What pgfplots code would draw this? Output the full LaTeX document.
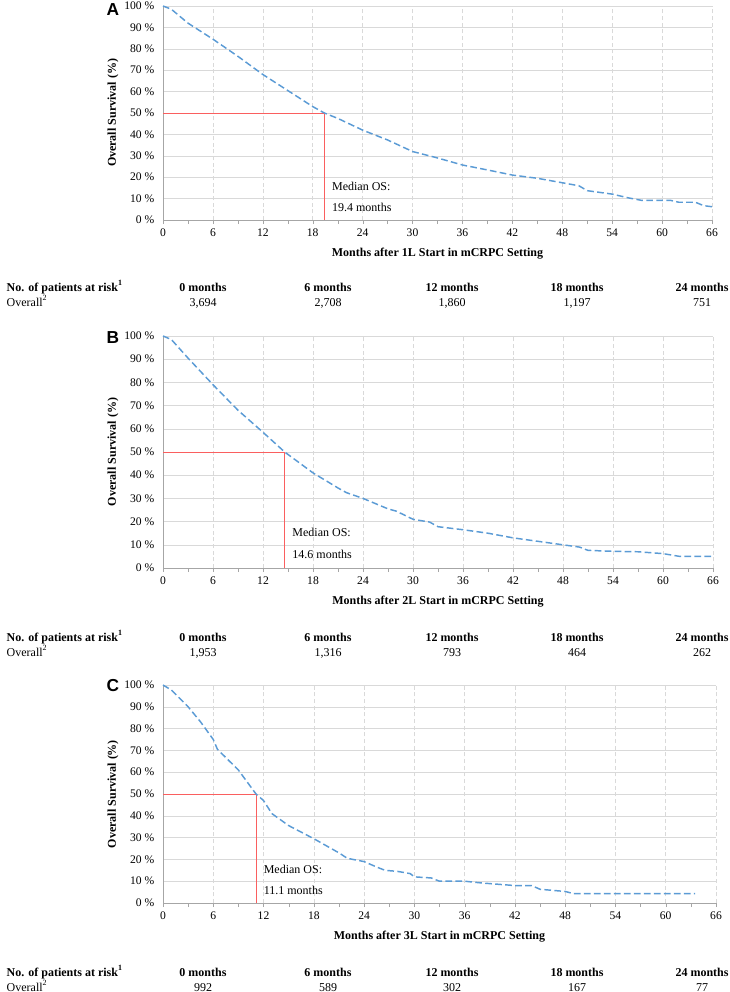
\documentclass[border=0pt]{standalone}
\usepackage{pgfplots}
\pgfplotsset{compat=1.18}
\usepackage{fontspec}
\setmainfont{Liberation Serif}
\newfontfamily\arial{Liberation Sans}
\definecolor{osblue}{RGB}{91,155,213}
\definecolor{medred}{RGB}{250,95,95}
\definecolor{gridc}{RGB}{217,217,217}
\definecolor{axc}{RGB}{166,166,166}
\newcommand\tabfont{\fontsize{9}{11}\selectfont}
\pgfplotsset{
  kmaxis/.style={
    scale only axis, xmin=0, xmax=66, ymin=0, ymax=100,
    xtick={0,6,...,66}, minor xtick={3,9,...,63},
    ytick={0,10,...,100},
    yticklabel={\pgfmathprintnumber{\tick}\ \%},
    axis x line*=bottom, axis y line*=left,
    axis line style={axc,-},
    x tick style={axc}, tick align=outside,
    major tick length=3pt, minor tick length=3pt,
    ytick style={draw=none},
    xmajorgrids, ymajorgrids,
    x grid style={gridc, dash pattern=on 3pt off 2pt},
    y grid style={gridc},
    tick label style={font=\fontsize{8.7}{10}\selectfont},
    label style={font=\bfseries\fontsize{9}{11}\selectfont},
    xlabel style={at={([yshift=-25.5pt]axis description cs:0.5,0)},anchor=center},
    ylabel style={at={([xshift=-37.5pt]axis description cs:0,0.5)},anchor=center},
    ylabel={Overall Survival (\%)},
    clip=false,
    /pgf/number format/assume math mode=true,
  },
  km/.style={osblue, line width=1.1pt, dash pattern=on 5pt off 2.5pt},
  med/.style={medred, line width=0.65pt},
}
\newcommand\risktable[6]{%
  \begin{scope}[x=0.75pt,y=-0.75pt]
  \node[anchor=base west,font=\tabfont\bfseries] at (2,#1) {No. of patients at risk\textsuperscript{1}};
  \node[anchor=base west,font=\tabfont] at (2,#1+15) {Overall\textsuperscript{2}};
  \node[anchor=base,font=\tabfont\bfseries] at (203,#1) {0 months};
  \node[anchor=base,font=\tabfont\bfseries] at (328,#1) {6 months};
  \node[anchor=base,font=\tabfont\bfseries] at (452,#1) {12 months};
  \node[anchor=base,font=\tabfont\bfseries] at (577,#1) {18 months};
  \node[anchor=base,font=\tabfont\bfseries] at (702,#1) {24 months};
  \node[anchor=base,font=\tabfont] at (203,#1+15) {#2};
  \node[anchor=base,font=\tabfont] at (328,#1+15) {#3};
  \node[anchor=base,font=\tabfont] at (452,#1+15) {#4};
  \node[anchor=base,font=\tabfont] at (577,#1+15) {#5};
  \node[anchor=base,font=\tabfont] at (702,#1+15) {#6};
  \end{scope}
}
\newcommand\panel[2]{%
  \node[font=\arial\bfseries\fontsize{13}{13}\selectfont] at (113*0.75pt,-#2*0.75pt) {#1};
}
\newcommand\medtext[2]{%
  \node[anchor=west,inner sep=0pt,font=\tabfont] at (axis cs:#1+0.9,15.5) {Median OS:};
  \node[anchor=west,inner sep=0pt,font=\tabfont] at (axis cs:#1+0.9,6) {#2 months};
}
\begin{document}
\begin{tikzpicture}
\useasboundingbox (0,0) rectangle (729*0.75pt,-992*0.75pt);

% panel A
\panel{A}{10}
\begin{axis}[kmaxis, at={(163*0.75pt,-220*0.75pt)}, anchor=origin,
  width=549*0.75pt, height=214*0.75pt,
  xlabel={Months after 1L Start in mCRPC Setting}]
\addplot[med] coordinates {(0,50) (19.4,50) (19.4,0)};
\addplot[km] coordinates {(0,100) (1,98.5) (3,92) (6,84.5) (9,76.5) (12,68) (15,60.5) (18,53) (19.4,50) (21,47.5) (24,42) (27,37.4) (30,32) (33,29) (36,25.7) (39,23.4) (42,21) (45,19.5) (48,17.4) (50,16) (51,13.7) (54,12.1) (56,10.3) (57.5,9.2) (61,9.2) (62,8.3) (64,8.3) (65,6.7) (66,6.2)};
\medtext{19.4}{19.4}
\end{axis}
\risktable{291}{3,694}{2,708}{1,860}{1,197}{751}

% panel B
\panel{B}{338}
\begin{axis}[kmaxis, at={(163*0.75pt,-568*0.75pt)}, anchor=origin,
  width=550*0.75pt, height=232*0.75pt,
  xlabel={Months after 2L Start in mCRPC Setting}]
\addplot[med] coordinates {(0,50) (14.6,50) (14.6,0)};
\addplot[km] coordinates {(0,100) (1,98.5) (3,90.5) (6,79) (9,68) (12,58.5) (14.6,50) (18,41) (21,34.5) (22,32.5) (24,30) (27,25.5) (28,24.5) (30,21) (32,19.8) (33,17.8) (36,16.5) (39,15) (42,13) (45,11.5) (48,10) (50,9) (51,7.6) (54,7.2) (57,7) (60,6.2) (62,5) (66,5)};
\medtext{14.6}{14.6}
\end{axis}
\risktable{641}{1,953}{1,316}{793}{464}{262}

% panel C
\panel{C}{686}
\begin{axis}[kmaxis, at={(163*0.75pt,-903*0.75pt)}, anchor=origin,
  width=553*0.75pt, height=218*0.75pt,
  xlabel={Months after 3L Start in mCRPC Setting}]
\addplot[med] coordinates {(0,50) (11.1,50) (11.1,0)};
\addplot[km] coordinates {(0,100) (1,97.7) (3,90) (4.5,83) (6,75) (6.5,70.5) (9,61) (11.1,50) (12,47) (13,41) (15,35.5) (18,29.5) (21,23) (22,20.5) (24,19) (25.5,16.5) (26.5,15) (28,14.5) (29.5,13.5) (30,12) (32,11.5) (33,10) (36,10) (38,9.2) (42,8) (44,8) (45,6.3) (48,5.3) (49,4.3) (63.5,4.3)};
\medtext{11.1}{11.1}
\end{axis}
\risktable{976}{992}{589}{302}{167}{77}
\end{tikzpicture}
\end{document}
